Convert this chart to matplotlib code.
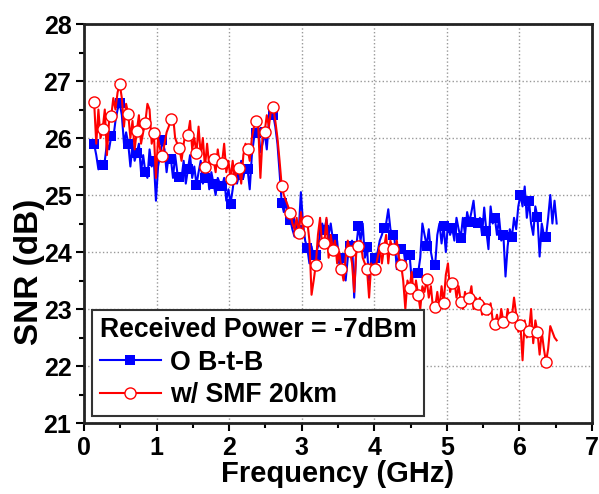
import numpy as np
import matplotlib
matplotlib.use("Agg")
import matplotlib.pyplot as plt
from matplotlib.ticker import MultipleLocator

plt.rcParams['font.family'] = ['Liberation Sans', 'DejaVu Sans']
plt.rcParams['font.weight'] = 'bold'

# Frequency sweep grid (GHz)
f_start, f_stop, n_pts = 0.14, 6.514, 218
freq = np.linspace(f_start, f_stop, n_pts)
marker_step = 4
n_markers = 54

# O B-t-B (blue)
snr_btb = [
    25.89, 25.7, 25.45, 25.6,
    25.53, 25.6, 25.9, 25.8,
    26.03, 26.0, 26.3, 26.5,
    26.61, 26.4, 25.9, 26.1,
    25.90, 25.5, 25.9, 25.6,
    25.74, 25.9, 25.4, 25.7,
    25.41, 25.3, 25.8, 25.5,
    25.60, 24.9, 25.5, 25.7,
    25.96, 25.8, 25.4, 25.7,
    25.64, 25.3, 25.7, 25.4,
    25.32, 25.3, 25.6, 25.2,
    25.45, 25.7, 25.3, 25.5,
    25.18, 25.4, 25.6, 25.2,
    25.29, 25.5, 25.1, 25.4,
    25.20, 25.0, 25.3, 25.2,
    25.15, 25.3, 24.9, 25.1,
    24.85, 25.1, 25.4, 25.2,
    25.35, 25.6, 25.3, 25.5,
    25.45, 25.1, 25.7, 26.0,
    26.08, 26.2, 25.75, 25.9,
    26.10, 25.8, 26.3, 26.5,
    26.41, 26.2, 25.9, 25.4,
    24.86, 24.7, 24.9, 24.6,
    24.57, 24.4, 24.27, 24.5,
    24.39, 25.05, 24.5, 24.2,
    24.07, 23.8, 24.1, 23.9,
    23.95, 24.1, 24.3, 24.5,
    24.39, 24.57, 24.3, 24.5,
    24.22, 24.0, 24.2, 23.8,
    23.90, 23.6, 23.5, 23.9,
    24.10, 24.2, 23.2, 24.1,
    24.45, 24.2, 24.5, 23.9,
    24.08, 23.5, 23.9, 23.7,
    23.89, 24.0, 24.2, 24.3,
    24.43, 24.5, 24.75, 24.4,
    24.30, 24.2, 23.7, 24.0,
    24.05, 24.1, 23.8, 24.0,
    23.95, 23.5, 23.7, 23.6,
    23.63, 23.9, 24.5, 24.3,
    24.11, 24.4, 24.0, 23.8,
    23.78, 24.3, 24.5, 24.15,
    24.45, 24.0, 24.5, 24.3,
    24.42, 24.2, 24.6, 24.4,
    24.25, 24.6, 24.3, 24.7,
    24.52, 24.7, 24.9, 24.5,
    24.51, 24.6, 24.3, 24.78,
    24.37, 24.05, 24.8, 24.5,
    24.60, 24.3, 24.6, 24.2,
    24.30, 23.57, 24.1, 24.4,
    24.26, 24.6, 24.4, 24.8,
    25.00, 24.8, 25.15, 24.6,
    24.90, 24.5, 24.3, 24.8,
    24.61, 23.92, 24.5, 24.3,
    24.27,
    24.6, 25.0, 24.5, 24.9, 24.5,
]

# w/ SMF 20km (red)
snr_smf = [
    26.63, 25.9, 26.5, 26.0,
    26.16, 26.5, 25.7, 26.3,
    26.38, 26.7, 26.5, 26.8,
    26.95, 26.7, 26.2, 26.6,
    26.42, 26.0, 26.3, 25.8,
    26.12, 26.4, 25.9, 26.1,
    26.27, 26.6, 26.5, 25.9,
    26.09, 25.3, 26.0, 25.8,
    25.69, 25.9, 26.1, 26.2,
    26.34, 26.4, 26.0, 25.9,
    25.82, 25.6, 25.9, 26.1,
    26.06, 26.3, 25.8, 26.0,
    25.74, 26.2, 25.7, 26.0,
    25.49, 25.9, 25.5, 25.7,
    25.63, 25.4, 25.8, 25.5,
    25.56, 25.9, 25.4, 25.6,
    25.28, 25.6, 25.2, 25.5,
    25.48, 25.2, 25.7, 25.9,
    25.81, 25.6, 26.0, 26.2,
    26.30, 26.2, 25.3, 26.0,
    26.11, 26.4, 26.2, 26.5,
    26.54, 26.3, 26.0, 25.6,
    25.16, 25.0, 24.9, 24.8,
    24.69, 24.5, 24.4, 24.6,
    24.33, 24.7, 24.4, 24.6,
    24.54, 24.2, 23.25, 23.5,
    23.78, 24.3, 24.6, 24.1,
    24.16, 24.6, 23.9, 24.3,
    24.04, 24.2, 23.8, 24.0,
    23.71, 23.5, 23.9, 24.2,
    24.02, 23.8, 23.3, 24.0,
    24.11, 24.2, 23.9, 23.8,
    23.71, 23.2, 23.8, 23.6,
    23.71, 23.9, 24.1, 23.8,
    24.07, 24.3, 23.8, 24.2,
    24.05, 24.0, 24.2, 23.9,
    23.78, 23.5, 23.0, 23.5,
    23.37, 23.65, 23.2, 23.5,
    23.25, 23.0, 23.4, 23.3,
    23.53, 23.2, 23.4, 23.0,
    23.03, 23.3, 23.0, 23.4,
    23.10, 23.6, 23.8, 23.3,
    23.46, 23.5, 23.2, 23.4,
    23.13, 23.0, 23.3, 23.1,
    23.19, 23.4, 23.0, 23.2,
    23.09, 23.2, 22.9, 23.1,
    23.00, 22.9, 23.1, 22.8,
    22.74, 22.9, 22.7, 23.0,
    22.78, 22.7, 23.0, 22.8,
    22.86, 23.2, 22.9, 22.6,
    22.72, 22.1, 22.8, 22.5,
    22.61, 23.0, 22.4, 22.8,
    22.60, 22.2, 22.6, 22.3,
    22.07,
    22.3, 22.7, 22.6, 22.5, 22.45,
]

x_ticks = [0, 1, 2, 3, 4, 5, 6, 7]
y_ticks = [21, 22, 23, 24, 25, 26, 27, 28]
legend_title = "Received Power = -7dBm"
labels = ["O B-t-B", "w/ SMF 20km"]

marks = slice(0, marker_step * (n_markers - 1) + 1, marker_step)

fig = plt.figure(figsize=(5.99, 4.94), dpi=100)
ax = fig.add_axes([0.1402, 0.1437, 0.848, 0.8077])

ax.plot(freq[:len(snr_btb)], snr_btb, color='#0000FF', lw=1.5, marker='s',
        markersize=7, markevery=marks, markeredgewidth=0, label=labels[0])
ax.plot(freq[:len(snr_smf)], snr_smf, color='#FF0000', lw=1.5, marker='o',
        markersize=8, markevery=marks, markerfacecolor='white',
        markeredgecolor='#FF0000', markeredgewidth=1.0, label=labels[1])

ax.set_xlim(0, 7)
ax.set_ylim(21, 28)
ax.set_xticks(x_ticks)
ax.set_yticks(y_ticks)
ax.xaxis.set_minor_locator(MultipleLocator(0.5))
ax.yaxis.set_minor_locator(MultipleLocator(0.5))
ax.tick_params(which='major', direction='out', length=6, width=1.5,
               labelsize=18, top=False, right=False, pad=3)
ax.tick_params(which='minor', direction='out', length=3.5, width=1.5,
               top=False, right=False)
for lab in ax.get_xticklabels() + ax.get_yticklabels():
    lab.set_fontweight('bold')
ax.grid(True, which='major', linestyle=':', color='#999999', linewidth=1)
ax.set_axisbelow(True)
for s in ax.spines.values():
    s.set_linewidth(2)
    s.set_color('#222222')

ax.set_xlabel("Frequency (GHz)", fontsize=21, fontweight='bold', labelpad=0)
ax.set_ylabel("SNR (dB)", fontsize=24, fontweight='bold')
ax.yaxis.set_label_coords(-0.077, 0.38)

leg = ax.legend(loc='lower left', bbox_to_anchor=(0.016, 0.018),
                borderaxespad=0, title=legend_title, fontsize=19.2,
                title_fontsize=19.2, fancybox=False, framealpha=1,
                edgecolor='#333333', handlelength=2.3, handletextpad=0.35,
                labelspacing=0.25, borderpad=0.28, alignment='left')
leg.get_title().set_fontweight('bold')
leg.get_frame().set_linewidth(1.5)
for t in leg.get_texts():
    t.set_fontweight('bold')

fig.savefig('out.png', dpi=100)
